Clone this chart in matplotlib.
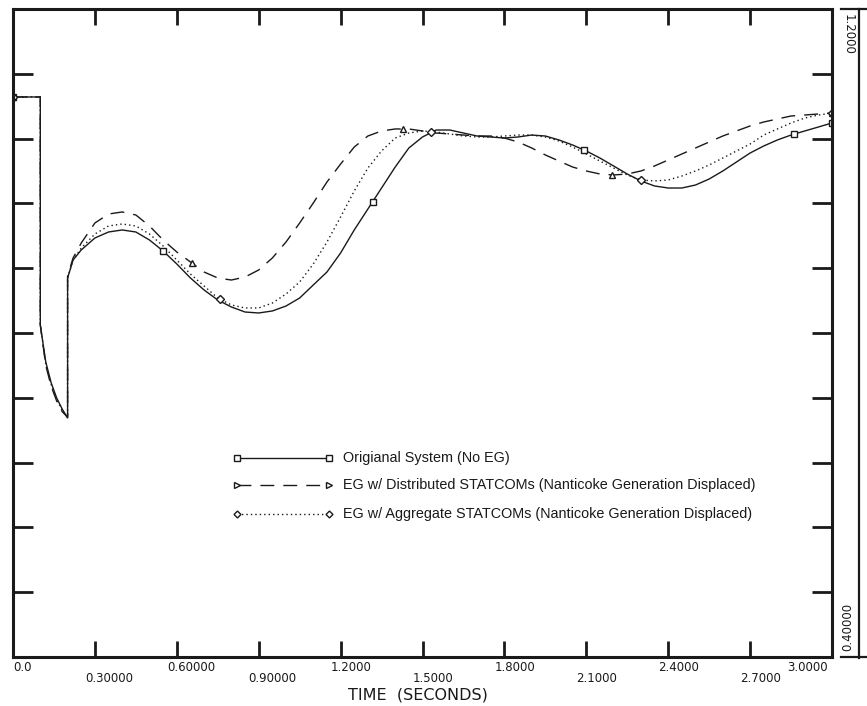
import numpy as np
import matplotlib
matplotlib.use("Agg")
import matplotlib.pyplot as plt
from matplotlib import transforms
from matplotlib.lines import Line2D

# ---------------- data ----------------
time_s = [0.0, 0.1, 0.1, 0.12, 0.14, 0.16, 0.18, 0.2, 0.2, 0.22,
          0.25, 0.3, 0.35, 0.4, 0.45, 0.5, 0.55, 0.6, 0.65, 0.7,
          0.75, 0.8, 0.85, 0.9, 0.95, 1.0, 1.05, 1.1, 1.15, 1.2,
          1.25, 1.3, 1.35, 1.4, 1.45, 1.5, 1.55, 1.6, 1.65, 1.7,
          1.75, 1.8, 1.85, 1.9, 1.95, 2.0, 2.05, 2.1, 2.15, 2.2,
          2.25, 2.3, 2.35, 2.4, 2.45, 2.5, 2.55, 2.6, 2.65, 2.7,
          2.75, 2.8, 2.85, 2.9, 2.95, 3.0]

original = [1.0914, 1.0914, 0.8099, 0.7642, 0.7383, 0.7198, 0.7062, 0.6951, 0.8679, 0.8901,
            0.9025, 0.9173, 0.9247, 0.9272, 0.9247, 0.9148, 0.9012, 0.8852, 0.8679, 0.8531,
            0.8407, 0.8321, 0.8259, 0.8247, 0.8272, 0.8333, 0.8432, 0.8593, 0.8753, 0.8988,
            0.9272, 0.9531, 0.9790, 1.0049, 1.0284, 1.0420, 1.0506, 1.0506, 1.0469, 1.0432,
            1.0420, 1.0407, 1.0420, 1.0444, 1.0432, 1.0383, 1.0321, 1.0247, 1.0160, 1.0062,
            0.9963, 0.9877, 0.9815, 0.9790, 0.9790, 0.9827, 0.9901, 1.0000, 1.0111, 1.0222,
            1.0309, 1.0383, 1.0444, 1.0494, 1.0543, 1.0593]

distributed = [1.0914, 1.0914, 0.8099, 0.7600, 0.7340, 0.7160, 0.7030, 0.6960, 0.8704, 0.8926,
               0.9111, 0.9358, 0.9469, 0.9494, 0.9457, 0.9321, 0.9148, 0.9000, 0.8877, 0.8753,
               0.8679, 0.8654, 0.8691, 0.8778, 0.8926, 0.9123, 0.9358, 0.9605, 0.9864, 1.0086,
               1.0296, 1.0432, 1.0494, 1.0519, 1.0519, 1.0494, 1.0469, 1.0457, 1.0444, 1.0432,
               1.0432, 1.0407, 1.0358, 1.0284, 1.0198, 1.0123, 1.0049, 1.0000, 0.9963, 0.9951,
               0.9963, 1.0000, 1.0062, 1.0136, 1.0210, 1.0284, 1.0358, 1.0432, 1.0494, 1.0556,
               1.0605, 1.0642, 1.0679, 1.0691, 1.0704, 1.0716]

aggregate = [1.0914, 1.0914, 0.8099, 0.7620, 0.7360, 0.7180, 0.7045, 0.6955, 0.8679, 0.8901,
             0.9049, 0.9222, 0.9321, 0.9346, 0.9321, 0.9222, 0.9074, 0.8901, 0.8728, 0.8580,
             0.8432, 0.8346, 0.8309, 0.8309, 0.8370, 0.8481, 0.8630, 0.8852, 0.9123, 0.9432,
             0.9753, 1.0037, 1.0247, 1.0407, 1.0469, 1.0494, 1.0481, 1.0457, 1.0432, 1.0420,
             1.0420, 1.0432, 1.0444, 1.0444, 1.0420, 1.0370, 1.0296, 1.0210, 1.0123, 1.0037,
             0.9951, 0.9889, 0.9877, 0.9889, 0.9938, 1.0000, 1.0074, 1.0160, 1.0247, 1.0333,
             1.0444, 1.0519, 1.0593, 1.0654, 1.0691, 1.0716]

original_marker_t = [0.0, 0.549, 1.317, 2.093, 2.861, 3.0]
distributed_marker_t = [0.0, 0.655, 1.427, 2.195, 3.0]
aggregate_marker_t = [0.0, 0.757, 1.53, 2.30, 3.0]

series_labels = ["Origianal System (No EG)",
                 "EG w/ Distributed STATCOMs (Nanticoke Generation Displaced)",
                 "EG w/ Aggregate STATCOMs (Nanticoke Generation Displaced)"]

x_ticks = [0.0, 0.3, 0.6, 0.9, 1.2, 1.5, 1.8, 2.1, 2.4, 2.7, 3.0]
x_tick_labels = ["0.0", "0.30000", "0.60000", "0.90000", "1.2000", "1.5000",
                 "1.8000", "2.1000", "2.4000", "2.7000", "3.0000"]
y_ticks = [0.48, 0.56, 0.64, 0.72, 0.80, 0.88, 0.96, 1.04, 1.12]
y_min, y_max = 0.4, 1.2
y_top_label = "1.2000"
y_bottom_label = "0.40000"
x_label = "TIME  (SECONDS)"

# ---------------- figure ----------------
W, H, DPI = 867, 706, 100
fig = plt.figure(figsize=(W / DPI, H / DPI), dpi=DPI)
L, R, T, B = 13, 832, 9, 657
ax = fig.add_axes([L / W, (H - B) / H, (R - L) / W, (B - T) / H])
ax.set_xlim(0, 3.0)
ax.set_ylim(y_min, y_max)

ink = "#1a1a1a"
t = np.array(time_s)

ax.plot(t, original, color=ink, lw=1.0, solid_joinstyle="round")
ax.plot(t, distributed, color=ink, lw=1.0, dashes=(10, 6.5))
ax.plot(t, aggregate, color=ink, lw=1.0, dashes=(1.0, 2.2))

def interp_series(vals, ts):
    return np.interp(ts, np.array(time_s), np.array(vals))

ax.plot(original_marker_t, interp_series(original, original_marker_t), ls="none",
        marker="s", ms=5, mfc="white", mec=ink, mew=1.0)
ax.plot(distributed_marker_t, interp_series(distributed, distributed_marker_t), ls="none",
        marker="^", ms=5, mfc="white", mec=ink, mew=1.0)
ax.plot(aggregate_marker_t, interp_series(aggregate, aggregate_marker_t), ls="none",
        marker="D", ms=4, mfc="white", mec=ink, mew=1.0)

# axes frame and ticks
for s in ax.spines.values():
    s.set_linewidth(2.2)
    s.set_color(ink)
ax.set_xticks(x_ticks)
ax.set_yticks(y_ticks)
ax.set_xticklabels([])
ax.set_yticklabels([])
ax.tick_params(axis="x", which="both", direction="in", length=11.5, width=2.0,
               top=True, bottom=True, color=ink)
ax.tick_params(axis="y", which="both", direction="in", length=14.4, width=2.0,
               left=True, right=True, color=ink)

tick_font = dict(family="DejaVu Sans", fontsize=8.5, color=ink)

# staggered x tick labels
xform = ax.get_xaxis_transform()
for i, (xv, lab) in enumerate(zip(x_ticks, x_tick_labels)):
    dy = -4 if i % 2 == 0 else -15
    if i == 0:
        dx, ha = 0, "left"
    elif i == len(x_ticks) - 1:
        dx, ha = -4, "right"
    else:
        dx, ha = -10, "left"
    tr = transforms.offset_copy(xform, fig=fig, x=dx, y=dy, units="dots")
    ax.text(xv, 0, lab, transform=tr, ha=ha, va="top", **tick_font)

fig.text(418 / W, 1 - 688 / H, x_label, ha="center", va="top",
         family="DejaVu Sans", fontsize=11.5, color=ink)

# right-side y-range strip
fig.add_artist(Line2D([859 / W, 859 / W], [1 - 9 / H, 1 - 658 / H],
                      transform=fig.transFigure, color=ink, lw=1.6))
fig.add_artist(Line2D([841 / W, 1.0], [1 - 9 / H, 1 - 9 / H],
                      transform=fig.transFigure, color=ink, lw=1.6))
fig.add_artist(Line2D([841 / W, 1.0], [1 - 657 / H, 1 - 657 / H],
                      transform=fig.transFigure, color=ink, lw=1.6))
fig.text(848 / W, 1 - 14 / H, y_top_label, rotation=-90, ha="center", va="top", **tick_font)
fig.text(848 / W, 1 - 651 / H, y_bottom_label, rotation=90, ha="center", va="bottom", **tick_font)

# in-plot legend
leg_rows = [(1 - (458 - T) / (B - T)), (1 - (485 - T) / (B - T)), (1 - (514 - T) / (B - T))]
x0, x1, xt = (237 - L) / (R - L), (329 - L) / (R - L), (343 - L) / (R - L)
styles = [dict(ls="-"), dict(dashes=(10, 6.5)), dict(dashes=(1.0, 2.2))]
mks = [("s", 4.5), (">", 4.5), ("D", 3.5)]
for yy, st, (m, msz), lab in zip(leg_rows, styles, mks, series_labels):
    ax.plot([x0, x1], [yy, yy], transform=ax.transAxes, color=ink, lw=1.0, **st)
    ax.plot([x0, x1], [yy, yy], transform=ax.transAxes, ls="none", marker=m, ms=msz,
            mfc="white", mec=ink, mew=1.0)
    ax.text(xt, yy, lab, transform=ax.transAxes, ha="left", va="center",
            family="Liberation Sans", fontsize=10.4, color=ink)

fig.savefig("out.png", dpi=DPI)
